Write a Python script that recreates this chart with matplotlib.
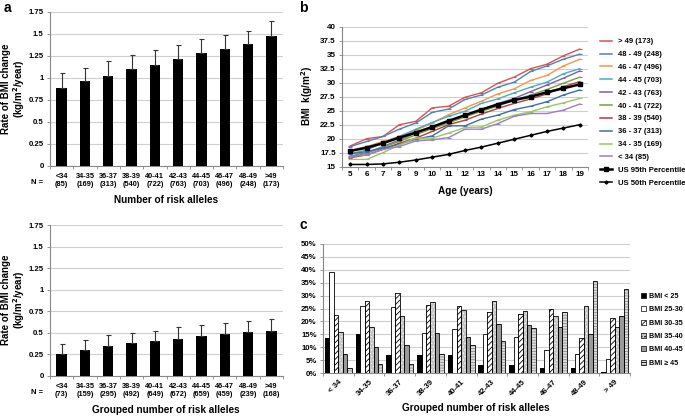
import numpy as np
import matplotlib.pyplot as plt
from matplotlib.patches import Patch
from matplotlib.lines import Line2D

plt.rcParams['font.family'] = ['Liberation Sans', 'DejaVu Sans']
plt.rcParams['font.weight'] = 'bold'
plt.rcParams['hatch.linewidth'] = 0.6

# ---- panel a data ----
groups_a = ['<34', '34-35', '36-37', '38-39', '40-41', '42-43', '44-45', '46-47', '48-49', '>49']
n_top = [85, 169, 313, 540, 722, 763, 703, 496, 248, 173]
rate_top = [0.88, 0.96, 1.02, 1.10, 1.15, 1.21, 1.28, 1.33, 1.38, 1.47]
err_top = [0.17, 0.15, 0.17, 0.16, 0.16, 0.16, 0.16, 0.16, 0.15, 0.18]
n_bot = [73, 159, 295, 492, 649, 672, 659, 459, 239, 168]
rate_bot = [0.25, 0.30, 0.35, 0.38, 0.40, 0.43, 0.46, 0.48, 0.51, 0.52]
err_bot = [0.12, 0.12, 0.12, 0.12, 0.12, 0.14, 0.13, 0.13, 0.13, 0.14]

# ---- panel b data ----
ages = [5, 6, 7, 8, 9, 10, 11, 12, 13, 14, 15, 16, 17, 18, 19]
b_labels = ['> 49 (173)', '48 - 49 (248)', '46 - 47 (496)', '44 - 45 (703)', '42 - 43 (763)',
            '40 - 41 (722)', '38 - 39 (540)', '36 - 37 (313)', '34 - 35 (169)', '< 34 (85)']
b_colors = ['#D9534F', '#4F81BD', '#F79646', '#4BACC6', '#7F5FA8',
            '#77A040', '#B0403D', '#3E6DA8', '#9BC85A', '#9A7FC9']
bmi_gt49 = [18.7, 20.0, 20.4, 22.5, 23.1, 25.5, 25.8, 27.4, 28.2, 29.9, 31.0, 32.5, 33.3, 34.8, 36.0]
bmi_48_49 = [18.6, 19.5, 20.4, 21.7, 22.8, 24.7, 25.3, 27.0, 27.8, 29.2, 30.1, 32.0, 33.0, 34.2, 35.1]
bmi_46_47 = [17.9, 18.6, 19.5, 20.4, 21.5, 22.8, 24.3, 25.5, 26.7, 28.0, 28.9, 30.4, 31.3, 33.0, 34.2]
bmi_44_45 = [17.3, 18.0, 19.2, 20.4, 21.7, 22.9, 24.0, 24.9, 26.3, 27.1, 28.2, 29.2, 30.1, 31.6, 32.5]
bmi_42_43 = [16.9, 17.5, 18.6, 19.8, 21.0, 22.1, 23.0, 24.2, 25.2, 26.3, 27.2, 28.4, 29.6, 30.8, 32.1]
bmi_40_41 = [16.8, 17.4, 18.5, 19.5, 20.7, 21.8, 22.8, 23.9, 24.9, 25.8, 26.9, 27.8, 28.8, 29.9, 31.0]
bmi_38_39 = [16.6, 17.1, 18.1, 19.2, 20.1, 21.3, 22.5, 23.3, 24.4, 25.4, 26.3, 27.1, 28.0, 29.3, 30.2]
bmi_36_37 = [17.3, 17.7, 18.3, 19.0, 19.9, 20.5, 22.3, 22.3, 23.5, 24.2, 25.2, 25.8, 26.6, 27.8, 28.7]
bmi_34_35 = [16.3, 16.3, 17.5, 18.9, 20.1, 20.1, 21.0, 22.0, 22.1, 23.3, 24.2, 24.8, 25.7, 26.4, 27.2]
bmi_lt34 = [16.8, 17.1, 18.1, 18.6, 19.6, 19.8, 20.2, 21.7, 21.7, 22.7, 24.0, 24.5, 24.5, 25.1, 26.2]
us_95 = [17.8, 18.4, 19.2, 20.2, 21.1, 22.1, 23.2, 24.2, 25.2, 26.1, 26.9, 27.5, 28.3, 29.0, 29.7]
us_50 = [15.4, 15.4, 15.5, 15.8, 16.2, 16.7, 17.2, 17.9, 18.5, 19.2, 19.9, 20.6, 21.3, 21.9, 22.5]
b_series = [bmi_gt49, bmi_48_49, bmi_46_47, bmi_44_45, bmi_42_43,
            bmi_40_41, bmi_38_39, bmi_36_37, bmi_34_35, bmi_lt34]

# ---- panel c data (percent) ----
groups_c = ['< 34', '34-35', '36-37', '38-39', '40-41', '42-43', '44-45', '46-47', '48-49', '> 49']
c_labels = ['BMI < 25', 'BMI 25-30', 'BMI 30-35', 'BMI 35-40', 'BMI 40-45', 'BMI \u2265 45']
pct_lt25 = [13.5, 15.0, 7.0, 7.0, 7.0, 3.0, 3.0, 2.0, 2.0, 0.3]
pct_25_30 = [39.0, 26.0, 25.5, 15.5, 17.0, 15.0, 14.0, 9.0, 7.5, 5.5]
pct_30_35 = [22.5, 28.0, 31.0, 26.5, 26.0, 23.5, 23.0, 25.0, 13.5, 21.5]
pct_35_40 = [16.0, 18.0, 22.0, 27.5, 24.5, 28.0, 24.0, 22.0, 26.0, 18.0]
pct_40_45 = [7.5, 10.0, 11.0, 15.5, 14.0, 19.0, 18.5, 18.0, 15.0, 22.0]
pct_ge45 = [2.0, 3.5, 3.5, 7.5, 11.0, 12.5, 17.5, 23.5, 35.5, 32.5]
c_series = [pct_lt25, pct_25_30, pct_30_35, pct_35_40, pct_40_45, pct_ge45]
c_face = ['black', 'white', 'white', '#c4c4c4', '#9a9a9a', '#dcdcdc']
c_hatch = [None, None, '//////', '.....', None, '------']
c_hcol = ['black', 'black', 'black', '#f4f4f4', 'black', '#8a8a8a']

W, H = 685, 417
fig = plt.figure(figsize=(W / 100, H / 100), dpi=100)


def add_ax(l, t, r, b):
    return fig.add_axes([l / W, 1 - b / H, (r - l) / W, (b - t) / H])


def style_axes(ax):
    for s in ['top', 'right']:
        ax.spines[s].set_visible(False)
    ax.spines['left'].set_color('#888888')
    ax.spines['bottom'].set_color('#888888')
    ax.spines['left'].set_linewidth(0.8)
    ax.spines['bottom'].set_linewidth(0.8)
    ax.yaxis.grid(True, color='#cfcfcf', lw=0.8)
    ax.set_axisbelow(True)
    ax.tick_params(axis='y', length=2.5, width=0.6, color='#888888', labelsize=5.6, pad=2)


def rate_panel(ax, rates, errs, ns):
    x = np.arange(len(groups_a))
    ax.bar(x, rates, width=0.45, color='black', zorder=3)
    ax.errorbar(x, rates, yerr=[np.zeros(len(errs)), errs], fmt='none',
                ecolor='#333333', elinewidth=0.8, capsize=1.8, capthick=0.8, zorder=4)
    ax.set_xlim(-0.5, 9.5)
    ax.set_ylim(0, 1.75)
    ax.set_yticks([0, 0.25, 0.5, 0.75, 1, 1.25, 1.5, 1.75])
    ax.set_yticklabels(['0', '0.25', '0.5', '0.75', '1', '1.25', '1.5', '1.75'])
    style_axes(ax)
    ax.set_xticks(x)
    ax.set_xticklabels([f'{g}\n({n})' for g, n in zip(groups_a, ns)], fontsize=5.3, linespacing=1.2)
    ax.tick_params(axis='x', which='major', length=0, pad=5)
    ax.set_xticks(np.arange(-0.5, 10, 1), minor=True)
    ax.tick_params(axis='x', which='minor', length=2.5, width=0.6, color='#888888')


# panel a top
ax1 = add_ax(50, 11.7, 283, 165.7)
rate_panel(ax1, rate_top, err_top, n_top)
fig.text(14 / W, 1 - 89 / H, 'Rate of BMI change\n(kg/m$^2$/year)', rotation=90, fontsize=7,
         ha='center', va='center', linespacing=1.1)
fig.text(37 / W, 1 - 183 / H, 'N =', fontsize=5.5, ha='center', va='center')
fig.text(166 / W, 1 - 200 / H, 'Number of risk alleles', fontsize=7.2, ha='center', va='center')

# panel a bottom
ax2 = add_ax(50, 225, 283, 375.7)
rate_panel(ax2, rate_bot, err_bot, n_bot)
fig.text(14 / W, 1 - 300 / H, 'Rate of BMI change\n(kg/m$^2$/year)', rotation=90, fontsize=7,
         ha='center', va='center', linespacing=1.1)
fig.text(37 / W, 1 - 393 / H, 'N =', fontsize=5.5, ha='center', va='center')
fig.text(166 / W, 1 - 410 / H, 'Grouped number of risk alleles', fontsize=7.2, ha='center', va='center')

# panel b
ax3 = add_ax(342, 26.7, 588, 166.7)
handles = []
for vals, lab, col in zip(b_series, b_labels, b_colors):
    ax3.plot(ages, vals, color=col, lw=1.0, marker='_', ms=3, mew=0.8, zorder=3)
    handles.append(Line2D([0], [0], color=col, lw=1.1, label=lab))
ln95, = ax3.plot(ages, us_95, color='black', lw=1.8, marker='s', ms=2.2, zorder=4,
                 label='US 95th Percentile')
ln50, = ax3.plot(ages, us_50, color='black', lw=1.1, marker='D', ms=1.6, zorder=4,
                 label='US 50th Percentile')
handles += [ln95, ln50]
ax3.set_xlim(4.55, 19.5)
ax3.set_ylim(15, 40)
ax3.set_yticks(np.arange(15, 40.1, 2.5))
ax3.set_yticklabels(['15', '17.5', '20', '22.5', '25', '27.5', '30', '32.5', '35', '37.5', '40'])
ax3.set_xticks(ages)
style_axes(ax3)
ax3.tick_params(axis='x', which='major', length=0, labelsize=5.8, pad=3)
ax3.set_xticks(np.arange(4.5, 19.6, 1), minor=True)
ax3.tick_params(axis='x', which='minor', length=2.5, width=0.6, color='#888888')
ax3.tick_params(axis='y', labelsize=5.8)
fig.text(307 / W, 1 - 96 / H, 'BMI  k(g/m$^2$)', rotation=90, fontsize=7.2, ha='center', va='center')
fig.text(465 / W, 1 - 191 / H, 'Age (years)', fontsize=7.2, ha='center', va='center')
fig.legend(handles=handles, loc='upper left', bbox_to_anchor=(597 / W, 1 - 35 / H),
           frameon=False, fontsize=5.5, handlelength=1.6, labelspacing=0.72,
           handletextpad=0.7, borderaxespad=0)

# panel c
ax4 = add_ax(323, 244, 630, 373)
xc = np.arange(len(groups_c))
bw = 0.145
for j, vals in enumerate(c_series):
    pos = xc + (j - 2.5) * bw
    ax4.bar(pos, vals, width=bw, color=c_face[j], hatch=c_hatch[j],
            edgecolor=c_hcol[j], lw=0, zorder=3)
    ax4.bar(pos, vals, width=bw, fill=False, edgecolor='black', lw=0.6, zorder=4)
ax4.set_xlim(-0.5, 9.5)
ax4.set_ylim(0, 50)
ax4.set_yticks(np.arange(0, 51, 5))
ax4.set_yticklabels([f'{v}%' for v in range(0, 51, 5)])
style_axes(ax4)
ax4.set_xticks(xc)
ax4.set_xticklabels(groups_c, rotation=45, ha='right', rotation_mode='anchor', fontsize=5.6)
ax4.tick_params(axis='x', which='major', length=0, pad=4)
ax4.set_xticks(np.arange(-0.5, 10, 1), minor=True)
ax4.tick_params(axis='x', which='minor', length=2.5, width=0.6, color='#888888')
fig.text(476 / W, 1 - 408 / H, 'Grouped number of risk alleles', fontsize=7.2, ha='center', va='center')
c_handles = [Patch(facecolor=c_face[j], edgecolor='black', hatch=c_hatch[j], lw=0.5, label=c_labels[j])
             for j in range(6)]
fig.legend(handles=c_handles, loc='upper left', bbox_to_anchor=(638 / W, 1 - 290 / H),
           frameon=False, fontsize=5.1, handlelength=0.7, handleheight=0.7,
           labelspacing=0.9, handletextpad=0.5, borderaxespad=0)

# panel letters
fig.text(4 / W, 1 - 1 / H, 'a', fontsize=10, ha='left', va='top')
fig.text(299 / W, 1 - 1 / H, 'b', fontsize=10, ha='left', va='top')
fig.text(299 / W, 1 - 218 / H, 'c', fontsize=10, ha='left', va='top')

fig.savefig('out.png', dpi=100)
